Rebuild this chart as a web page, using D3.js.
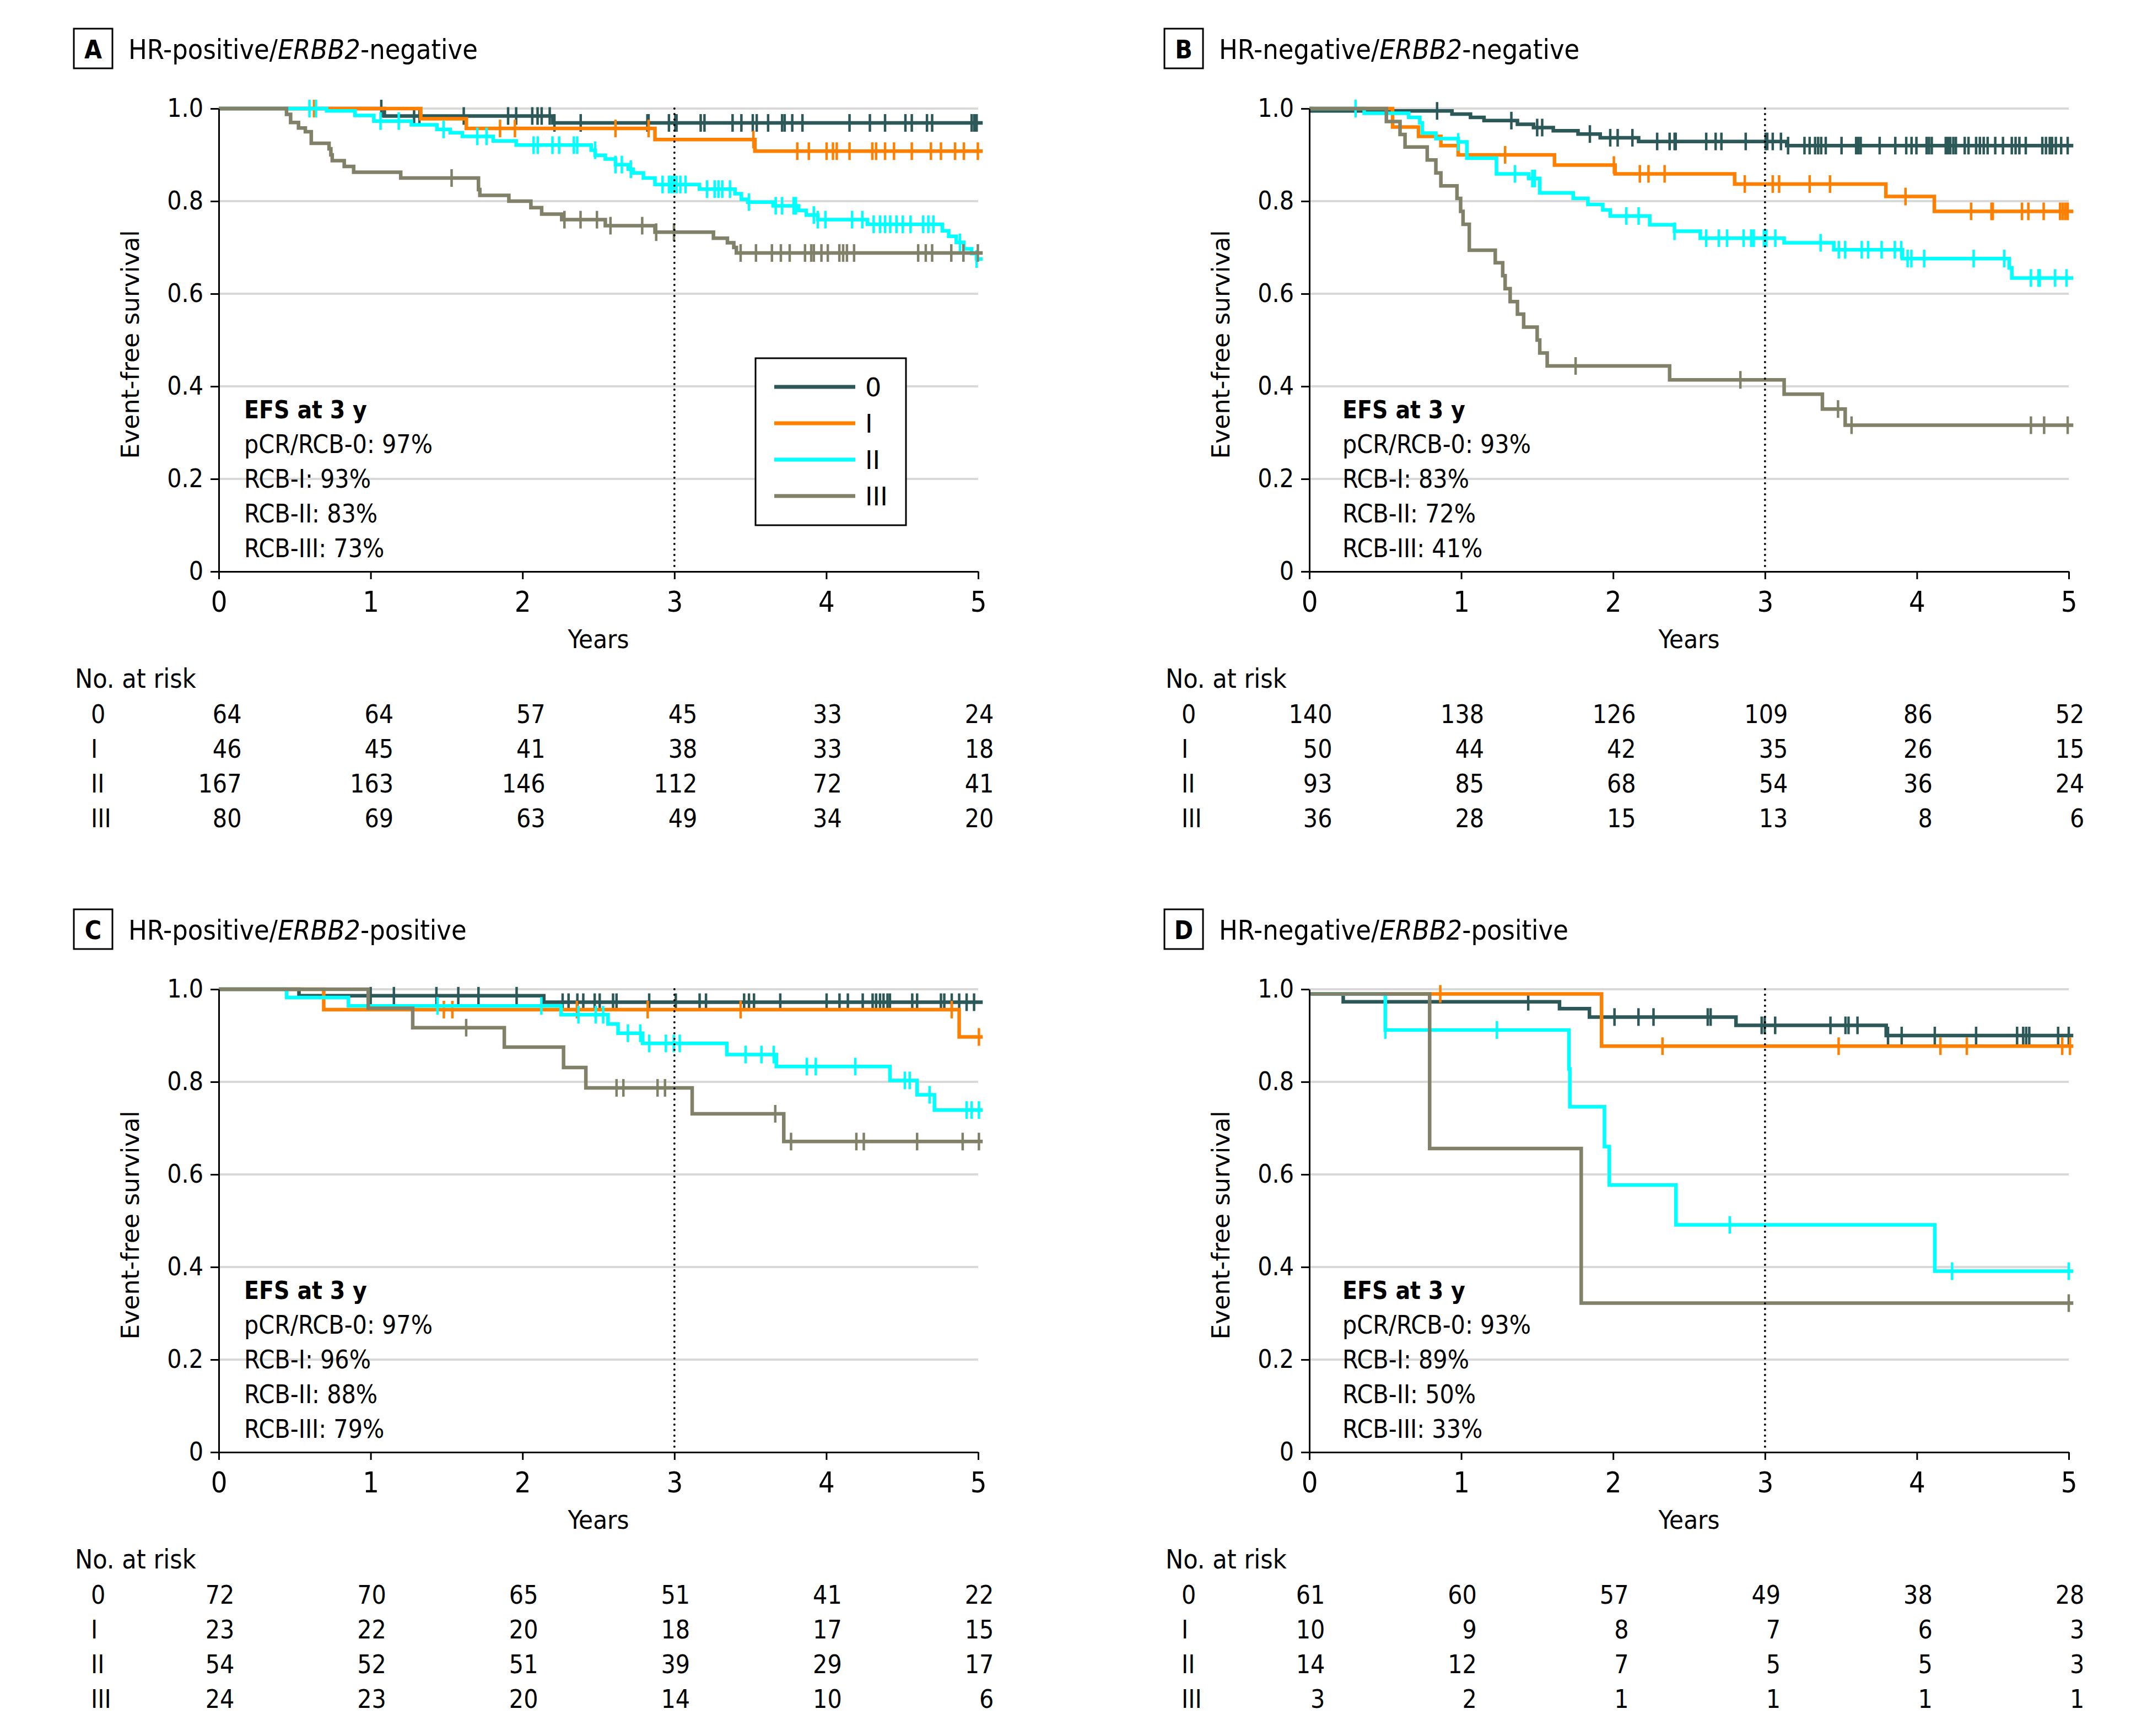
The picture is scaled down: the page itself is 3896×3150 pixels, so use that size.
<!DOCTYPE html>
<html><head><meta charset="utf-8">
<script src="https://cdn.jsdelivr.net/npm/d3@7"></script>
<style>body{margin:0;background:#fff;}</style>
</head><body>
<svg id="chart" width="3896" height="3150"></svg>
<script>
// ---------------- DATA ----------------
const groups = ["0", "I", "II", "III"];
const groupColors = ["#2c5858", "#ff8000", "#00ffff", "#818169"];
const timeTicks = [0, 1, 2, 3, 4, 5];
const survTicks = [0, 0.2, 0.4, 0.6, 0.8, 1.0];
const survTickLabels = ["0", "0.2", "0.4", "0.6", "0.8", "1.0"];
const panelLetters = ["A", "B", "C", "D"];
const titleHR = ["HR-positive/", "HR-negative/", "HR-positive/", "HR-negative/"];
const titleGene = "ERBB2";
const titleStatus = ["-negative", "-negative", "-positive", "-positive"];
const efsPrefixes = ["pCR/RCB-0: ", "RCB-I: ", "RCB-II: ", "RCB-III: "];
const efsA = [97, 93, 83, 73];
const efsB = [93, 83, 72, 41];
const efsC = [97, 96, 88, 79];
const efsD = [93, 89, 50, 33];
const riskA = [[64,64,57,45,33,24],[46,45,41,38,33,18],[167,163,146,112,72,41],[80,69,63,49,34,20]];
const riskB = [[140,138,126,109,86,52],[50,44,42,35,26,15],[93,85,68,54,36,24],[36,28,15,13,8,6]];
const riskC = [[72,70,65,51,41,22],[23,22,20,18,17,15],[54,52,51,39,29,17],[24,23,20,14,10,6]];
const riskD = [[61,60,57,49,38,28],[10,9,8,7,6,3],[14,12,7,5,5,3],[3,2,1,1,1,1]];

// Kaplan-Meier steps: [time (years), survival after that time]
const a0Steps = [[0,1],[1.09,0.984],[2.2,0.969]];
const a0Cens = [1.07,1.286,1.321,1.613,1.905,1.958,2.064,2.099,2.126,2.179,2.21,2.383,2.822,2.830,2.964,3.006,3.014,3.173,3.198,3.383,3.441,3.516,3.542,3.617,3.709,3.726,3.776,3.843,4.153,4.287,4.387,4.521,4.563,4.663,4.697,4.957,4.974,4.990];
const a1Steps = [[0,1],[1.33,0.978],[1.63,0.957],[2.872,0.933],[3.53,0.908]];
const a1Cens = [0.627,1.852,1.95,2.612,2.83,3.52,3.809,3.885,4.002,4.044,4.069,4.153,4.303,4.328,4.387,4.446,4.563,4.689,4.755,4.848,4.906,4.998];
const a2Steps = [[0,1],[0.71,0.995],[0.897,0.985],[1.021,0.973],[1.268,0.965],[1.436,0.955],[1.524,0.948],[1.604,0.94],[1.807,0.93],[1.958,0.921],[2.452,0.91],[2.479,0.899],[2.545,0.891],[2.612,0.879],[2.696,0.869],[2.729,0.861],[2.796,0.85],[2.872,0.836],[3.165,0.826],[3.399,0.816],[3.441,0.804],[3.483,0.798],[3.65,0.79],[3.818,0.78],[3.868,0.77],[3.944,0.76],[4.271,0.75],[4.764,0.736],[4.806,0.724],[4.856,0.711],[4.906,0.697],[4.957,0.687],[4.99,0.675]];
const a2Cens = [0.597,0.64,1.065,1.185,1.48,1.702,1.763,2.073,2.10,2.197,2.241,2.338,2.36,2.478,2.612,2.654,2.713,2.922,2.964,2.981,2.997,3.014,3.039,3.073,3.215,3.265,3.290,3.315,3.366,3.491,3.667,3.709,3.785,3.80,3.918,3.944,3.994,4.170,4.237,4.312,4.354,4.387,4.421,4.462,4.504,4.555,4.638,4.672,4.705,4.88,4.99];
const a3Steps = [[0,1],[0.446,0.9875],[0.473,0.97],[0.525,0.958],[0.57,0.95],[0.609,0.925],[0.726,0.913],[0.738,0.90],[0.747,0.8875],[0.826,0.875],[0.888,0.8625],[1.198,0.85],[1.71,0.825],[1.719,0.8125],[1.91,0.80],[2.055,0.786],[2.126,0.772],[2.258,0.76],[2.545,0.747],[2.872,0.733],[3.257,0.72],[3.349,0.71],[3.391,0.70],[3.408,0.688]];
const a3Cens = [1.533,2.276,2.382,2.49,2.579,2.788,2.88,2.997,3.436,3.537,3.642,3.701,3.759,3.860,3.901,3.918,3.968,4.010,4.086,4.111,4.136,4.183,4.605,4.655,4.697,4.823,4.903,4.998];

const b0Steps = [[0,1],[0.01,0.995],[0.939,0.988],[1.061,0.981],[1.150,0.974],[1.370,0.966],[1.476,0.959],[1.606,0.952],[1.769,0.945],[1.915,0.937],[2.168,0.929],[3.143,0.92]];
const b0Cens = [0.841,1.330,1.500,1.533,1.847,1.981,2.030,2.127,2.290,2.372,2.405,2.412,2.613,2.675,2.713,2.873,3.004,3.015,3.051,3.105,3.152,3.26,3.294,3.33,3.35,3.37,3.40,3.504,3.60,3.615,3.63,3.755,3.858,3.93,3.965,3.997,4.064,4.08,4.098,4.19,4.205,4.22,4.24,4.257,4.315,4.34,4.39,4.415,4.44,4.466,4.516,4.567,4.625,4.65,4.675,4.717,4.826,4.85,4.875,4.89,4.915,4.95,4.993];
const b1Steps = [[0,1],[0.548,0.96],[0.719,0.94],[0.866,0.92],[0.98,0.90],[1.614,0.878],[2.013,0.859],[2.80,0.837],[3.796,0.81],[4.115,0.778]];
const b1Cens = [1.289,2.005,2.176,2.233,2.339,2.867,3.051,3.093,3.294,3.428,3.925,4.357,4.491,4.500,4.692,4.734,4.835,4.943,4.960,4.977,4.993];
const b2Steps = [[0,1],[0.361,0.99],[0.654,0.981],[0.727,0.969],[0.744,0.947],[0.833,0.935],[0.98,0.928],[1.037,0.893],[1.232,0.859],[1.444,0.849],[1.517,0.818],[1.737,0.806],[1.834,0.793],[1.932,0.781],[1.981,0.768],[2.241,0.749],[2.404,0.735],[2.574,0.72],[3.126,0.71],[3.453,0.695],[3.905,0.676],[4.608,0.656],[4.625,0.634]];
const b2Cens = [0.304,0.98,1.354,1.468,1.484,2.087,2.168,2.404,2.613,2.696,2.750,2.859,2.909,2.926,2.993,3.009,3.068,3.366,3.486,3.528,3.637,3.679,3.768,3.855,3.897,3.939,3.964,4.048,4.374,4.575,4.751,4.801,4.809,4.910,4.985];
const b3Steps = [[0,1],[0.507,0.972],[0.597,0.944],[0.63,0.917],[0.776,0.889],[0.833,0.861],[0.866,0.833],[0.972,0.806],[0.996,0.778],[1.012,0.75],[1.053,0.694],[1.224,0.667],[1.273,0.639],[1.289,0.611],[1.322,0.583],[1.370,0.556],[1.411,0.528],[1.500,0.50],[1.517,0.472],[1.566,0.444],[2.372,0.414],[3.126,0.383],[3.378,0.351],[3.528,0.316]];
const b3Cens = [1.753,2.838,3.481,3.570,4.751,4.838,4.993];

const c0Steps = [[0,1],[0.528,0.986],[2.14,0.972]];
const c0Cens = [1.000,1.153,1.433,1.577,1.710,1.961,2.264,2.303,2.361,2.400,2.475,2.508,2.596,2.619,2.834,3.009,3.166,3.208,3.459,3.491,3.524,3.697,4.002,4.087,4.142,4.240,4.305,4.328,4.354,4.377,4.403,4.419,4.566,4.598,4.755,4.777,4.826,4.875,4.924,4.973];
const c1Steps = [[0,1],[0.691,0.956],[4.875,0.897]];
const c1Cens = [1.482,1.538,2.358,2.824,3.436,4.826,5.005];
const c2Steps = [[0,1],[0.447,0.982],[0.854,0.964],[2.254,0.945],[2.563,0.925],[2.629,0.905],[2.791,0.883],[3.345,0.859],[3.671,0.833],[4.419,0.803],[4.598,0.772],[4.712,0.739]];
const c2Cens = [1.440,2.124,2.368,2.482,2.531,2.694,2.775,2.834,2.944,2.996,3.035,3.469,3.573,3.654,3.872,3.931,4.191,4.517,4.549,4.680,4.924,4.957,5.005];
const c3Steps = [[0,1],[0.984,0.959],[1.277,0.917],[1.88,0.875],[2.27,0.831],[2.417,0.787],[3.117,0.731],[3.72,0.671]];
const c3Cens = [1.629,2.619,2.664,2.889,2.938,3.664,3.768,4.198,4.247,4.598,4.898,5.005];

const d0Steps = [[0,0.99],[0.223,0.973],[1.647,0.958],[1.844,0.940],[2.809,0.922],[3.798,0.900]];
const d0Cens = [1.441,2.009,2.167,2.266,2.623,2.642,2.978,2.998,3.067,3.431,3.530,3.55,3.609,3.81,3.90,4.118,4.39,4.66,4.70,4.72,4.74,4.93,5.0];
const d1Steps = [[0,0.99],[1.924,0.877]];
const d1Cens = [0.862,2.325,3.485,4.155,4.329,4.957,5.008];
const d2Steps = [[0,0.99],[0.5,0.912],[1.709,0.828],[1.715,0.746],[1.943,0.66],[1.975,0.577],[2.414,0.491],[4.118,0.391]];
const d2Cens = [0.5,1.235,2.768,4.232,5.0];
const d3Steps = [[0,0.99],[0.792,0.656],[1.79,0.322]];
const d3Cens = [5.0];

// ---------------- RENDER ----------------
const svg = d3.select("#chart");
svg.append("rect").attr("width", 3896).attr("height", 3150).attr("fill", "#fff");

const WIDE = "'DejaVu Sans', Verdana, sans-serif";
const COND = "'DejaVu Sans Condensed', 'DejaVu Sans', sans-serif";
// probe whether condensed face exists
const probe = svg.append("text").style("font-family", "'DejaVu Sans'").style("font-size", "100px").text("pCR/RCB-0: 97%");
const wNormal = probe.node().getComputedTextLength();
probe.style("font-family", COND).style("font-stretch", "semi-condensed");
const wCond = probe.node().getComputedTextLength();
probe.remove();
const condOK = wCond < wNormal * 0.95;
const SX = condOK ? 1 : 0.9;

function ctext(sel, x, y, str, size, anchor, weight) {
  return sel.append("text")
    .attr("transform", `translate(${x},${y}) scale(${SX},1)`)
    .attr("text-anchor", anchor || "start")
    .style("font-family", COND).style("font-stretch", "semi-condensed")
    .style("font-size", size + "px").style("font-weight", weight || "normal")
    .attr("fill", "#000")
    .text(str);
}

const panels = [
  {steps: [a0Steps, a1Steps, a2Steps, a3Steps], cens: [a0Cens, a1Cens, a2Cens, a3Cens], risk: riskA, efs: efsA, ox: 0, oy: 0, efsDx: 46, legend: true},
  {steps: [b0Steps, b1Steps, b2Steps, b3Steps], cens: [b0Cens, b1Cens, b2Cens, b3Cens], risk: riskB, efs: efsB, ox: 1979, oy: 0, efsDx: 60},
  {steps: [c0Steps, c1Steps, c2Steps, c3Steps], cens: [c0Cens, c1Cens, c2Cens, c3Cens], risk: riskC, efs: efsC, ox: 0, oy: 1598, efsDx: 46},
  {steps: [d0Steps, d1Steps, d2Steps, d3Steps], cens: [d0Cens, d1Cens, d2Cens, d3Cens], risk: riskD, efs: efsD, ox: 1979, oy: 1598, efsDx: 60}
];

const END = 5.03;
function survAt(steps, t) {
  let s = steps[0][1];
  for (const [tt, ss] of steps) { if (tt <= t + 1e-9) s = ss; else break; }
  return s;
}

panels.forEach((p, pi) => {
  const g = svg.append("g").attr("transform", `translate(${p.ox},${p.oy})`);
  const x = d3.scaleLinear().domain([0, 5]).range([397, 1775]);
  const y = d3.scaleLinear().domain([0, 1]).range([1037, 197]);

  // title box + title
  g.append("rect").attr("x", 134).attr("y", 52).attr("width", 70).attr("height", 72)
    .attr("fill", "none").attr("stroke", "#000").attr("stroke-width", 3);
  ctext(g, 169, 106, panelLetters[pi], 46, "middle", "bold");
  const tt = ctext(g, 233, 107, "", 50, "start");
  tt.append("tspan").text(titleHR[pi]);
  tt.append("tspan").style("font-style", "italic").text(titleGene);
  tt.append("tspan").text(titleStatus[pi]);

  // gridlines
  g.append("g").selectAll("line").data(survTicks.filter(d => d > 0)).join("line")
    .attr("x1", x(0)).attr("x2", x(5)).attr("y1", d => y(d)).attr("y2", d => y(d))
    .attr("stroke", "#d9d9d9").attr("stroke-width", 4);

  // curves
  const line = d3.line().x(d => x(d[0])).y(d => y(d[1])).curve(d3.curveStepAfter);
  p.steps.forEach((st, gi) => {
    const pts = st.concat([[END, st[st.length - 1][1]]]);
    g.append("path").datum(pts).attr("d", line)
      .attr("fill", "none").attr("stroke", groupColors[gi]).attr("stroke-width", 6.5);
    g.append("g").selectAll("line").data(p.cens[gi]).join("line")
      .attr("x1", d => x(d)).attr("x2", d => x(d))
      .attr("y1", d => y(survAt(st, d)) - 16).attr("y2", d => y(survAt(st, d)) + 16)
      .attr("stroke", groupColors[gi]).attr("stroke-width", 4.5);
  });

  // dotted 3-year line
  g.append("line").attr("x1", x(3)).attr("x2", x(3)).attr("y1", y(1)).attr("y2", y(0))
    .attr("stroke", "#000").attr("stroke-width", 4).attr("stroke-dasharray", "0 10").attr("stroke-linecap", "round");

  // axes
  const yAxis = d3.axisLeft(y).tickValues(survTicks).tickFormat((d, i) => survTickLabels[i])
    .tickSize(15).tickSizeOuter(0).tickPadding(13);
  const ya = g.append("g").attr("transform", `translate(${x(0)},0)`).call(yAxis);
  const xAxis = d3.axisBottom(x).tickValues(timeTicks).tickFormat(d3.format("d"))
    .tickSize(14).tickSizeOuter(0).tickPadding(22);
  const xa = g.append("g").attr("transform", `translate(0,${y(0)})`).call(xAxis);
  [ya, xa].forEach(a => {
    a.select(".domain").attr("stroke", "#000").attr("stroke-width", 3);
    a.selectAll(".tick line").attr("stroke", "#000").attr("stroke-width", 3);
    a.selectAll(".tick text").attr("fill", "#000")
      .style("font-family", COND).style("font-stretch", "semi-condensed");
  });
  ya.selectAll(".tick text").style("font-size", "46px")
    .attr("x", -28 / SX).attr("transform", `scale(${SX},1)`);
  xa.selectAll(".tick text").style("font-size", "52px").attr("transform", `scale(${SX},1)`);

  // axis titles
  g.append("text").attr("transform", "translate(252,625) rotate(-90)").attr("text-anchor", "middle")
    .style("font-family", WIDE).style("font-size", "44px").attr("fill", "#000").text("Event-free survival");
  ctext(g, 1086, 1176, "Years", 47, "middle");

  // EFS annotation
  const ex = x(0) + p.efsDx;
  ctext(g, ex, 759, "EFS at 3 y", 44, "start", "bold");
  p.efs.forEach((v, i) => ctext(g, ex, 822 + i * 63, efsPrefixes[i] + v + "%", 46, "start"));

  // legend (panel A only)
  if (p.legend) {
    const lg = g.append("g");
    lg.append("rect").attr("x", 1371).attr("y", 650).attr("width", 273).attr("height", 303)
      .attr("fill", "#fff").attr("stroke", "#000").attr("stroke-width", 3);
    groups.forEach((gr, i) => {
      const ly = 702 + i * 66;
      lg.append("line").attr("x1", 1405).attr("x2", 1552).attr("y1", ly).attr("y2", ly)
        .attr("stroke", groupColors[i]).attr("stroke-width", 7);
      lg.append("text").attr("x", 1570).attr("y", ly + 17)
        .style("font-family", WIDE).style("font-size", "46px").attr("fill", "#000").text(gr);
    });
  }

  // No. at risk table
  ctext(g, 136, 1248, "No. at risk", 48, "start");
  groups.forEach((gr, i) => ctext(g, 165, 1312 + i * 63, gr, 46, "start"));
  timeTicks.forEach((t, ci) => {
    const col = p.risk.map(r => r[ci]);
    const texts = col.map((v, ri) => ctext(g, 0, 1312 + ri * 63, String(v), 46, "end"));
    const maxW = d3.max(texts, tx => tx.node().getComputedTextLength()) * SX;
    const rx = x(t) + maxW / 2 + 2;
    texts.forEach((tx, ri) => tx.attr("transform", `translate(${rx},${1312 + ri * 63}) scale(${SX},1)`));
  });
});
</script>
</body></html>
